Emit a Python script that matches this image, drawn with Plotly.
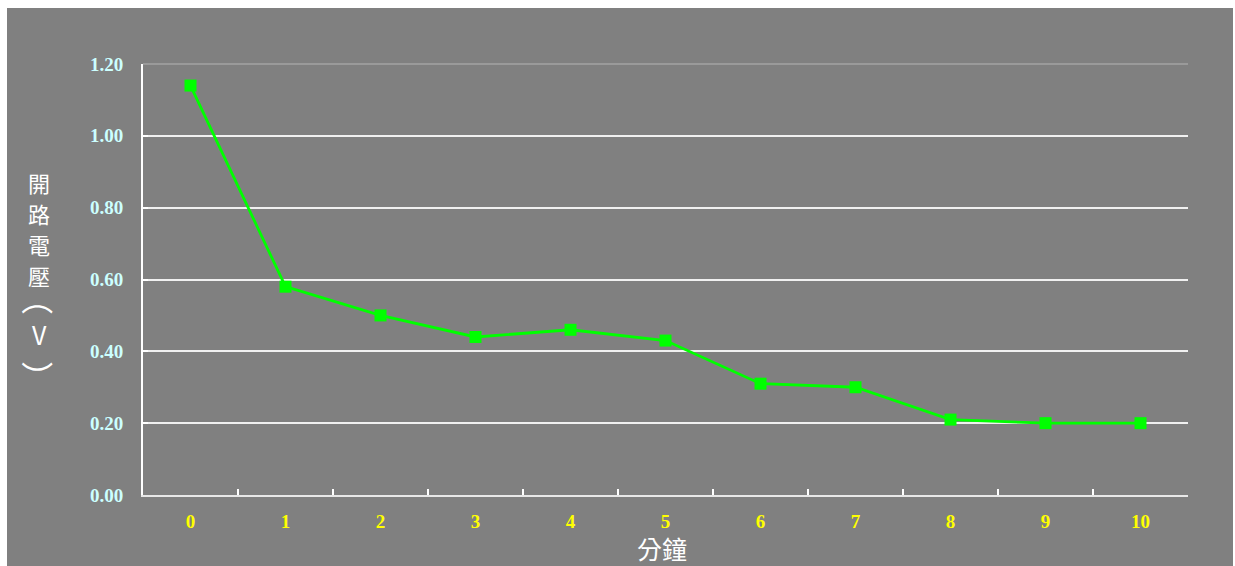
import plotly.graph_objects as go

# Open-circuit voltage readings over time
minutes = ["0", "1", "2", "3", "4", "5", "6", "7", "8", "9", "10"]
voltage = [1.14, 0.58, 0.50, 0.44, 0.46, 0.43, 0.31, 0.30, 0.21, 0.20, 0.20]
y_ticks = [0.0, 0.2, 0.4, 0.6, 0.8, 1.0, 1.2]
y_tick_text = ["0.00", "0.20", "0.40", "0.60", "0.80", "1.00", "1.20"]
x_title = "分鐘"

# vertical axis title, one glyph per row (angle rotates the brackets;
# full-width brackets sit off-centre in their box, hence the row offsets)
y_title_chars = ["開", "路", "電", "壓", "（", "V", "）"]
y_title_rows = [182, 213, 244, 275, 299, 334, 377]
y_title_angle = [0, 0, 0, 0, 90, 0, 90]
y_title_size = [22, 22, 22, 22, 32, 25, 32]

GRAY = "#808080"

fig = go.Figure()
fig.add_trace(go.Scatter(
    x=minutes, y=voltage, mode="lines+markers",
    line=dict(color="#00ff00", width=2.8),
    marker=dict(symbol="square", size=12, color="#00ff00"),
    cliponaxis=False, showlegend=False,
))

W, H = 1235, 566
L, R, T, B = 143, 47, 64, 71
pw, ph = W - L - R, H - T - B

shapes = [
    # gray panel behind the whole chart, leaving a thin white edge
    dict(type="rect", xref="paper", yref="paper", layer="below",
         x0=(7 - L) / pw, x1=(1233 - L) / pw,
         y0=-(B + 5) / ph, y1=(H - 8 - B) / ph,
         fillcolor=GRAY, line=dict(width=0)),
    # faint top border line of the plot area
    dict(type="line", xref="paper", yref="paper", layer="above",
         x0=0, x1=1, y0=1, y1=1, line=dict(color="#9a9a9a", width=2)),
]

annotations = []
for ch, row, ang, sz in zip(y_title_chars, y_title_rows, y_title_angle,
                            y_title_size):
    annotations.append(dict(
        text=ch, xref="paper", yref="paper",
        x=(39 - L) / pw, y=(H - B - row) / ph,
        xanchor="center", yanchor="middle", showarrow=False, textangle=ang,
        font=dict(family="Noto Sans CJK TC", size=sz, color="white"),
    ))
# horizontal axis title
annotations.append(dict(
    text=x_title, xref="paper", yref="paper",
    x=(662 - L) / pw, y=(H - B - 548) / ph,
    xanchor="center", yanchor="middle", showarrow=False,
    font=dict(family="Noto Sans CJK TC", size=25, color="white"),
))

fig.update_layout(
    width=W, height=H,
    margin=dict(l=L, r=R, t=T, b=B, autoexpand=False),
    paper_bgcolor="white", plot_bgcolor=GRAY,
    shapes=shapes,
    annotations=annotations,
    xaxis=dict(
        type="category", range=[-0.5, 10.5], automargin=False,
        tickson="boundaries", ticks="inside", ticklen=6, tickwidth=1.5,
        tickcolor="white",
        showline=True, linecolor="#e8e8e8", linewidth=2,
        showgrid=False, zeroline=False,
        ticklabelstandoff=8,
        tickfont=dict(family="Liberation Serif", size=19, color="#ffff00",
                      weight="bold"),
    ),
    yaxis=dict(
        range=[0, 1.2], tickvals=y_ticks, ticktext=y_tick_text,
        automargin=False,
        ticks="inside", ticklen=5, tickwidth=1.5, tickcolor="white",
        showline=True, linecolor="white", linewidth=2,
        showgrid=True, gridcolor="#f0f0f0", gridwidth=1.5, zeroline=False,
        tickfont=dict(family="Liberation Serif", size=19, color="#ccffff",
                      weight="bold"),
        ticklabelstandoff=14,
    ),
)

fig.write_html("out.html")
